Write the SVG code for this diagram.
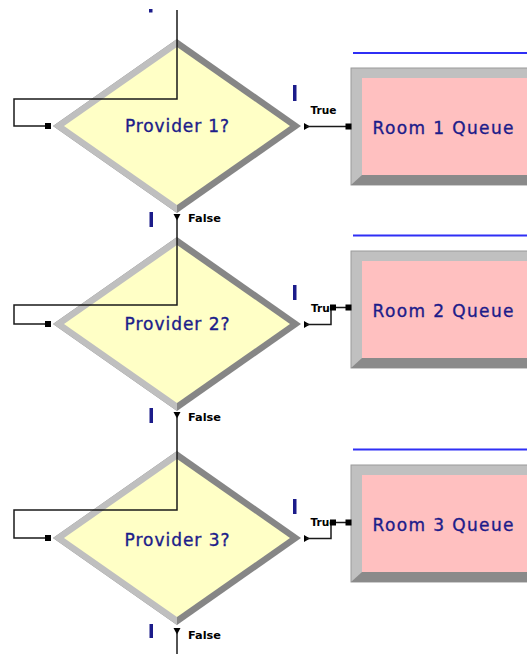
<svg xmlns="http://www.w3.org/2000/svg" xmlns:xlink="http://www.w3.org/1999/xlink" width="527" height="654" viewBox="0 0 527 654">
  <style>
    .lbl { font-family: "DejaVu Sans", "Liberation Sans", sans-serif; font-size: 17px; fill: #1c1c8a; stroke: #1c1c8a; stroke-width: 0.35; }
    .small { font-family: "DejaVu Sans", "Liberation Sans", sans-serif; font-size: 11px; font-weight: bold; fill: #000; }
    .wire { fill: none; stroke: #1a1a1a; stroke-width: 1.5; }
    .pt { fill: #000; }
    .bar { fill: #1c1c8a; }
    .blue { stroke: #2f2ff5; stroke-width: 2; }
  </style>
  <defs>
    <g id="dia">
      <polygon points="0,-87 124,0 0,87 -124,0" fill="#868686"/>
      <polygon points="0,-87 -124,0 0,87" fill="#bfbfbf"/>
      <polygon points="0,-79 113,0 0,79 -113,0" fill="#ffffc6"/>
    </g>
    <g id="que">
      <rect x="0" y="0" width="190" height="117" fill="#c0c0c0" stroke="#9a9a9a" stroke-width="1"/>
      <polygon points="0,117 11,107 190,107 190,117" fill="#8a8a8a"/>
      <rect x="11" y="10" width="179" height="97" fill="#ffc0c0"/>
    </g>
    <clipPath id="clipTr">
      <rect x="300" y="0" width="30" height="654"/>
    </clipPath>
  </defs>

  <g id="provider1">
    <use xlink:href="#dia" href="#dia" transform="translate(177,126)"/>
    <text class="lbl" x="177" y="132" text-anchor="middle" textLength="104" lengthAdjust="spacing">Provider 1?</text>
  </g>
  <g id="provider2">
    <use xlink:href="#dia" href="#dia" transform="translate(177,324)"/>
    <text class="lbl" x="177" y="330" text-anchor="middle" textLength="105" lengthAdjust="spacing">Provider 2?</text>
  </g>
  <g id="provider3">
    <use xlink:href="#dia" href="#dia" transform="translate(177,538)"/>
    <text class="lbl" x="177" y="546" text-anchor="middle" textLength="105" lengthAdjust="spacing">Provider 3?</text>
  </g>

  <g id="room1">
    <line class="blue" x1="353" y1="53" x2="527" y2="53"/>
    <use xlink:href="#que" href="#que" transform="translate(351,68)"/>
    <text class="lbl" x="372.5" y="134" textLength="141" lengthAdjust="spacing">Room 1 Queue</text>
  </g>
  <g id="room2">
    <line class="blue" x1="353" y1="235.5" x2="527" y2="235.5"/>
    <use xlink:href="#que" href="#que" transform="translate(351,251)"/>
    <text class="lbl" x="372.5" y="316.5" textLength="141" lengthAdjust="spacing">Room 2 Queue</text>
  </g>
  <g id="room3">
    <line class="blue" x1="353" y1="449.5" x2="527" y2="449.5"/>
    <use xlink:href="#que" href="#que" transform="translate(351,465)"/>
    <text class="lbl" x="372.5" y="530.5" textLength="141" lengthAdjust="spacing">Room 3 Queue</text>
  </g>

  <g id="markers">
    <rect class="bar" x="149" y="9" width="3.5" height="3.5"/>
    <rect class="bar" x="293" y="85" width="3.5" height="16"/>
    <rect class="bar" x="149.5" y="212" width="3.5" height="15"/>
    <rect class="bar" x="293" y="285" width="3.5" height="15"/>
    <rect class="bar" x="149.5" y="408" width="3.5" height="15"/>
    <rect class="bar" x="293" y="499" width="3.5" height="15"/>
    <rect class="bar" x="149.5" y="624" width="3.5" height="14"/>
  </g>

  <g id="connectors">
    <!-- into Provider 1 -->
    <path class="wire" d="M177,10 V99 H14 V126 H48"/>
    <rect class="pt" x="45" y="123" width="6" height="6"/>
    <!-- Provider 1 True -> Room 1 -->
    <polygon class="pt" points="304,123 310,126.5 304,130"/>
    <path class="wire" d="M306,126.5 H349"/>
    <rect class="pt" x="345.5" y="123.5" width="6" height="6"/>
    <text class="small" x="310.5" y="114" textLength="26" lengthAdjust="spacingAndGlyphs">True</text>
    <!-- Provider 1 False -> Provider 2 -->
    <polygon class="pt" points="173.5,214 180.5,214 177,220.5"/>
    <text class="small" x="188" y="222" textLength="33" lengthAdjust="spacingAndGlyphs">False</text>
    <path class="wire" d="M177,219 V305 H14 V324 H48"/>
    <rect class="pt" x="45" y="321" width="6" height="6"/>
    <!-- Provider 2 True -> Room 2 -->
    <polygon class="pt" points="304,321 310,324.5 304,328"/>
    <path class="wire" d="M306,324.5 H331 V307.5 H349"/>
    <text class="small" x="311" y="311.5" textLength="26" lengthAdjust="spacingAndGlyphs" clip-path="url(#clipTr)">True</text>
    <rect class="pt" x="330" y="304.5" width="6" height="6"/>
    <rect class="pt" x="345.5" y="304.5" width="6" height="6"/>
    <!-- Provider 2 False -> Provider 3 -->
    <polygon class="pt" points="173.5,412 180.5,412 177,418.5"/>
    <text class="small" x="188" y="421" textLength="33" lengthAdjust="spacingAndGlyphs">False</text>
    <path class="wire" d="M177,417 V510 H14 V538 H48"/>
    <rect class="pt" x="45" y="535" width="6" height="6"/>
    <!-- Provider 3 True -> Room 3 -->
    <polygon class="pt" points="304,535 310,538.5 304,542"/>
    <path class="wire" d="M306,538.5 H331 V522.5 H349"/>
    <text class="small" x="310.5" y="526" textLength="26" lengthAdjust="spacingAndGlyphs" clip-path="url(#clipTr)">True</text>
    <rect class="pt" x="330" y="519.5" width="6" height="6"/>
    <rect class="pt" x="345.5" y="519.5" width="6" height="6"/>
    <!-- Provider 3 False -> onward -->
    <polygon class="pt" points="173.5,628 180.5,628 177,634.5"/>
    <text class="small" x="188" y="638.5" textLength="33" lengthAdjust="spacingAndGlyphs">False</text>
    <path class="wire" d="M177,633 V654"/>
  </g>
</svg>
